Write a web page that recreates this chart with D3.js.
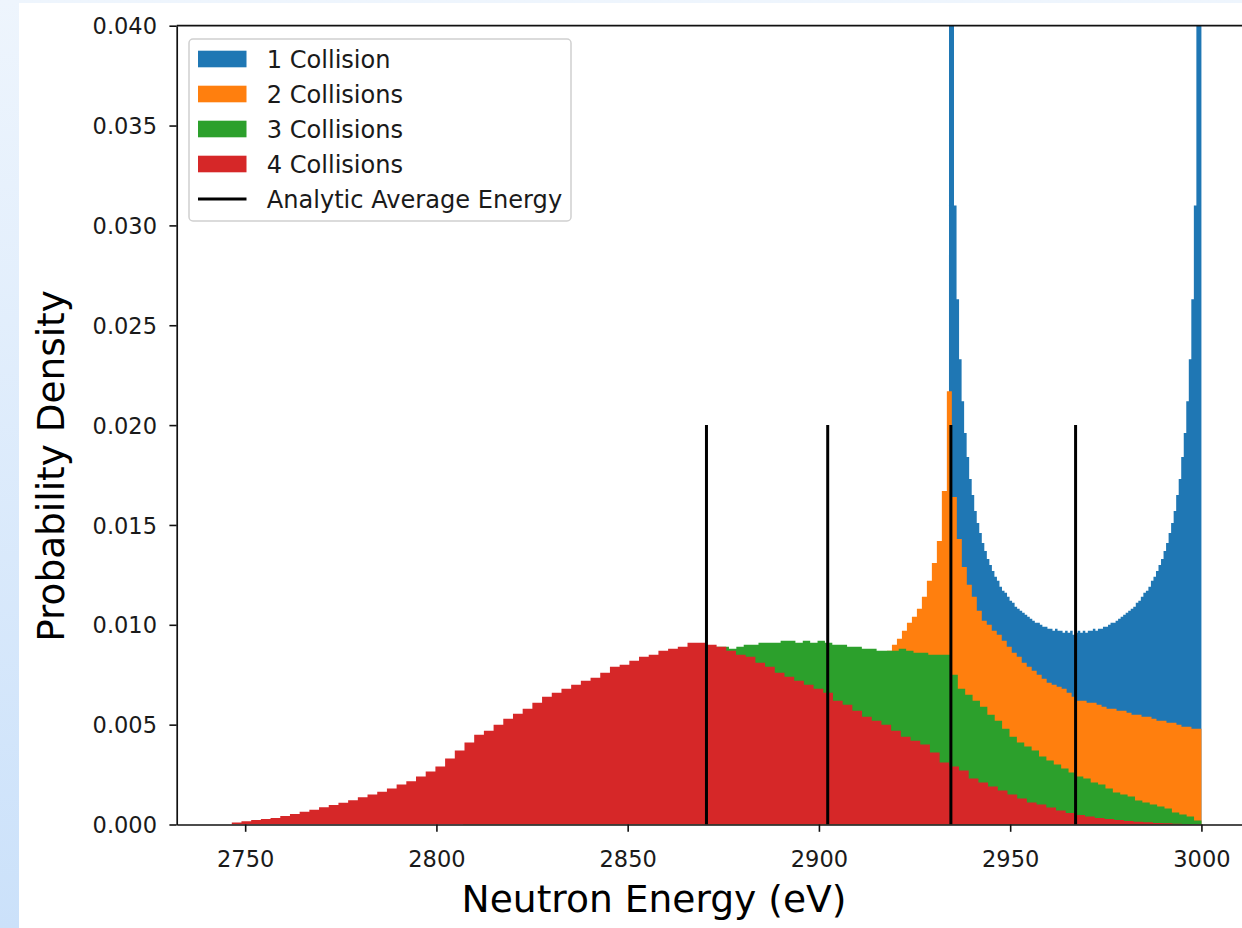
<!DOCTYPE html>
<html>
<head>
<meta charset="utf-8">
<script src="https://cdn.jsdelivr.net/npm/d3@7"></script>
<style>
  body { margin: 0; }
  svg { display: block; font-family: "DejaVu Sans", sans-serif; }
</style>
</head>
<body>
<script>
// Histogram data: probability density per bin, 100 equal bins from the lower edge up to 3000 eV
var energyMax = 3000;
var seriesNames = ["1 Collision", "2 Collisions", "3 Collisions", "4 Collisions"];
var seriesColors = ["#1f77b4", "#ff7f0e", "#2ca02c", "#d62728"];
var binLow = [2934.0, 2869.5, 2807.0, 2746.5];

var oneCollision = [
  0.0966, 0.0403, 0.0310, 0.0263, 0.0233, 0.0212, 0.0196, 0.0184, 0.0173, 0.0165,
  0.0157, 0.0151, 0.0146, 0.0141, 0.0137, 0.0133, 0.0130, 0.0127, 0.0124, 0.0122,
  0.0119, 0.0117, 0.0116, 0.0114, 0.0112, 0.0111, 0.0109, 0.0108, 0.0107, 0.0106,
  0.0105, 0.0104, 0.0103, 0.0102, 0.0101, 0.0101, 0.0100, 0.0099, 0.0099, 0.0098,
  0.0098, 0.0097, 0.0098, 0.0097, 0.0097, 0.0096, 0.0097, 0.0096, 0.0097, 0.0095,
  0.0096, 0.0097, 0.0096, 0.0097, 0.0096, 0.0097, 0.0097, 0.0098, 0.0097, 0.0098,
  0.0098, 0.0099, 0.0099, 0.0100, 0.0101, 0.0101, 0.0102, 0.0103, 0.0104, 0.0105,
  0.0106, 0.0107, 0.0108, 0.0109, 0.0111, 0.0112, 0.0114, 0.0116, 0.0117, 0.0119,
  0.0122, 0.0124, 0.0127, 0.0130, 0.0133, 0.0137, 0.0141, 0.0146, 0.0151, 0.0157,
  0.0165, 0.0173, 0.0184, 0.0196, 0.0212, 0.0233, 0.0263, 0.0310, 0.0403, 0.0966
];
var twoCollisions = [
  0.0048, 0.0049, 0.0049, 0.0050, 0.0051, 0.0051, 0.0052, 0.0052, 0.0053, 0.0054,
  0.0054, 0.0055, 0.0055, 0.0056, 0.0057, 0.0057, 0.0058, 0.0058, 0.0059, 0.0060,
  0.0061, 0.0061, 0.0062, 0.0062, 0.0064, 0.0066, 0.0068, 0.0069, 0.0070, 0.0071,
  0.0073, 0.0075, 0.0077, 0.0079, 0.0081, 0.0083, 0.0085, 0.0087, 0.0090, 0.0093,
  0.0097, 0.0101, 0.0104, 0.0108, 0.0114, 0.0122, 0.0131, 0.0142, 0.0167, 0.0217,
  0.0164, 0.0143, 0.0129, 0.0120, 0.0114, 0.0107, 0.0102, 0.0100, 0.0097, 0.0095,
  0.0092, 0.0089, 0.0086, 0.0084, 0.0081, 0.0079, 0.0077, 0.0075, 0.0073, 0.0071,
  0.0070, 0.0069, 0.0068, 0.0066, 0.0064, 0.0062, 0.0062, 0.0061, 0.0061, 0.0060,
  0.0059, 0.0058, 0.0058, 0.0057, 0.0057, 0.0056, 0.0055, 0.0055, 0.0054, 0.0054,
  0.0053, 0.0052, 0.0052, 0.0051, 0.0051, 0.0050, 0.0049, 0.0049, 0.0048, 0.0048
];
var threeCollisions = [
  0.0002, 0.0004, 0.0007, 0.0010, 0.0013, 0.0016, 0.0019, 0.0022, 0.0025, 0.0028,
  0.0031, 0.0034, 0.0037, 0.0040, 0.0043, 0.0046, 0.0049, 0.0052, 0.0055, 0.0058,
  0.0061, 0.0064, 0.0067, 0.0070, 0.0073, 0.0076, 0.0079, 0.0081, 0.0083, 0.0085,
  0.0087, 0.0088, 0.0089, 0.0089, 0.0089, 0.0089, 0.0088, 0.0089, 0.0090, 0.0090,
  0.0091, 0.0091, 0.0091, 0.0092, 0.0092, 0.0091, 0.0092, 0.0091, 0.0092, 0.0091,
  0.0090, 0.0090, 0.0089, 0.0089, 0.0088, 0.0088, 0.0087, 0.0087, 0.0087, 0.0088,
  0.0087, 0.0086, 0.0086, 0.0085, 0.0085, 0.0085, 0.0075, 0.0068, 0.0065, 0.0062,
  0.0059, 0.0055, 0.0052, 0.0048, 0.0044, 0.0041, 0.0039, 0.0037, 0.0034, 0.0032,
  0.0030, 0.0028, 0.0026, 0.0024, 0.0023, 0.0021, 0.0020, 0.0018, 0.0016, 0.0015,
  0.0014, 0.0012, 0.0011, 0.0010, 0.0009, 0.0008, 0.0006, 0.0005, 0.0004, 0.0002
];
var fourCollisions = [
  0.00010, 0.00016, 0.00022, 0.00028, 0.00033, 0.00042, 0.00053, 0.00064, 0.00074, 0.00086,
  0.00098, 0.00109, 0.00122, 0.00136, 0.00150, 0.00164, 0.00180, 0.00200, 0.00216, 0.00240,
  0.00265, 0.00290, 0.00330, 0.00370, 0.00410, 0.00450, 0.00470, 0.00500, 0.00530, 0.00555,
  0.00580, 0.00610, 0.00640, 0.00660, 0.00680, 0.00700, 0.00720, 0.00735, 0.00760, 0.00790,
  0.00800, 0.00820, 0.00840, 0.00850, 0.00870, 0.00880, 0.00890, 0.00910, 0.00910, 0.00900,
  0.00890, 0.00870, 0.00850, 0.00840, 0.00810, 0.00790, 0.00760, 0.00740, 0.00720, 0.00700,
  0.00680, 0.00660, 0.00620, 0.00600, 0.00570, 0.00540, 0.00520, 0.00500, 0.00470, 0.00440,
  0.00420, 0.00400, 0.00360, 0.00310, 0.00290, 0.00270, 0.00230, 0.00210, 0.00190, 0.00170,
  0.00150, 0.00130, 0.00110, 0.00100, 0.00085, 0.00070, 0.00058, 0.00048, 0.00040, 0.00033,
  0.00027, 0.00022, 0.00018, 0.00014, 0.00011, 0.00008, 0.00006, 0.00004, 0.00002, 0.00001
];
// analytic average energy after n collisions
var avgEnergy = [2967.1, 2934.5, 2902.3, 2870.6];
var avgLineTop = 0.02;

var xTicks = [2750, 2800, 2850, 2900, 2950, 3000];
var yTicks = [0, 0.005, 0.010, 0.015, 0.020, 0.025, 0.030, 0.035, 0.040];

var W = 1242, H = 928;
var plot = {left: 176.7, right: 1250, top: 25.7, bottom: 824.5};

var svg = d3.select("body").append("svg").attr("width", W).attr("height", H);

// page background (blue strip at the left edge)
var defs = svg.append("defs");
var grad = defs.append("linearGradient").attr("id", "bg").attr("x1", 0).attr("y1", 0).attr("x2", 0).attr("y2", 1);
grad.append("stop").attr("offset", "0%").attr("stop-color", "#eef5fd");
grad.append("stop").attr("offset", "100%").attr("stop-color", "#cbe1fa");
svg.append("rect").attr("width", W).attr("height", H).attr("fill", "url(#bg)");
svg.append("rect").attr("x", 19).attr("y", 3).attr("width", W - 19).attr("height", H - 3).attr("fill", "#fff");

defs.append("clipPath").attr("id", "plotclip").append("rect")
  .attr("x", plot.left).attr("y", plot.top)
  .attr("width", plot.right - plot.left).attr("height", plot.bottom - plot.top);

var x = d3.scaleLinear().domain([2732.1, 3012.7]).range([plot.left, plot.right]);
var y = d3.scaleLinear().domain([0, 0.04]).range([plot.bottom, plot.top]);

var allSeries = [oneCollision, twoCollisions, threeCollisions, fourCollisions];

var g = svg.append("g").attr("clip-path", "url(#plotclip)");

// each histogram as one stepped area so adjacent bars leave no seams
var area = d3.area()
  .curve(d3.curveStepAfter)
  .x(function(d) { return x(d.e); })
  .y0(y(0))
  .y1(function(d) { return y(d.v); });

allSeries.forEach(function(vals, s) {
  var w = (energyMax - binLow[s]) / vals.length;
  var pts = vals.map(function(v, i) { return {e: binLow[s] + i * w, v: v}; });
  pts.push({e: energyMax, v: vals[vals.length - 1]});
  g.append("path").datum(pts)
    .attr("d", area)
    .attr("fill", seriesColors[s]);
});

// analytic average energy lines
g.selectAll("line.avg").data(avgEnergy).enter().append("line")
  .attr("class", "avg")
  .attr("x1", function(d) { return x(d); })
  .attr("x2", function(d) { return x(d); })
  .attr("y1", y(0))
  .attr("y2", y(avgLineTop))
  .attr("stroke", "#000")
  .attr("stroke-width", 3);

// axes
var fs = 22.5;
var yAxis = svg.append("g").attr("transform", "translate(" + plot.left + ",0)")
  .call(d3.axisLeft(y).tickValues(yTicks).tickFormat(d3.format(".3f")).tickSize(7.3).tickSizeOuter(0).tickPadding(12.4));
var xAxis = svg.append("g").attr("transform", "translate(0," + plot.bottom + ")")
  .call(d3.axisBottom(x).tickValues(xTicks).tickFormat(d3.format("d")).tickSize(7.3).tickSizeOuter(0));

[xAxis, yAxis].forEach(function(a) {
  a.selectAll("path.domain").attr("stroke", "#111").attr("stroke-width", 1.7);
  a.selectAll(".tick line").attr("stroke", "#111").attr("stroke-width", 1.6);
  a.selectAll(".tick text").attr("fill", "#1a1a1a").style("font-size", fs + "px")
    .style("font-family", "DejaVu Sans");
});
yAxis.selectAll(".tick text").attr("dy", "0.36em");
xAxis.selectAll(".tick text").attr("y", 42.5).attr("dy", null);

// top spine
svg.append("line").attr("x1", plot.left).attr("x2", plot.right)
  .attr("y1", plot.top).attr("y2", plot.top)
  .attr("stroke", "#111").attr("stroke-width", 1.7);

// axis labels
svg.append("text").attr("x", 654).attr("y", 912).attr("text-anchor", "middle")
  .style("font-size", "37.6px").attr("fill", "#000").text("Neutron Energy (eV)");
svg.append("text").attr("transform", "translate(64,466) rotate(-90)").attr("text-anchor", "middle")
  .style("font-size", "37.4px").attr("fill", "#000").text("Probability Density");

// legend
var lfs = 24.1;
var lg = svg.append("g");
lg.append("rect").attr("x", 189).attr("y", 39).attr("width", 382).attr("height", 182).attr("rx", 4)
  .attr("fill", "#fff").attr("fill-opacity", 0.8).attr("stroke", "#d0d0d0").attr("stroke-width", 1.5);
var legendItems = seriesNames.concat(["Analytic Average Energy"]);
legendItems.forEach(function(name, i) {
  var cy = 59 + i * 35;
  if (i < 4) {
    lg.append("rect").attr("x", 198).attr("y", cy - 8.3).attr("width", 48.5).attr("height", 16.6)
      .attr("fill", seriesColors[i]);
  } else {
    lg.append("line").attr("x1", 198).attr("x2", 246.5).attr("y1", cy).attr("y2", cy)
      .attr("stroke", "#000").attr("stroke-width", 3);
  }
  lg.append("text").attr("x", 266.7).attr("y", cy).attr("dy", "0.36em")
    .style("font-size", lfs + "px").attr("fill", "#1a1a1a").text(name);
});
</script>
</body>
</html>
